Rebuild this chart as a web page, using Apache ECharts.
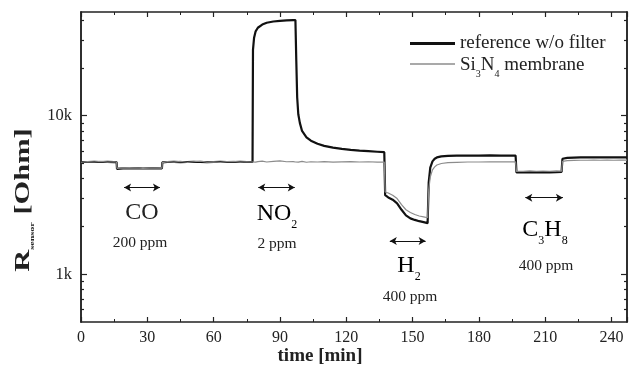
<!DOCTYPE html>
<html><head><meta charset="utf-8">
<script src="https://cdn.jsdelivr.net/npm/echarts@6/dist/echarts.min.js"></script>
<style>html,body{margin:0;padding:0;background:#fff}#c{width:630px;height:377px}</style>
</head><body><div id="c"></div>
<script>
// time [min]
const times = [0,3,6,9,12,15,16.1,16.3,19,22,25,28,31,34,36.6,36.8,39,42,45,48,51,54,57,60,63,66,69,72,75,77.6,77.8,78.3,79,80,82,84,87,90,93,96,97,97.4,97.8,98.3,99,100,102,104,107,110,114,118,122,126,130,134,137.2,137.6,139,141,143,145,147,149,151,153,155,156.8,157.3,158,159,160,161,163,166,170,175,180,185,190,196.6,197,200,203,206,209,212,215,217.4,217.8,220,223,226,229,232,235,238,241,244,247];
// reference w/o filter, R [Ohm]
const refR = [5100,5100,5120,5100,5110,5090,5100,4620,4650,4640,4660,4640,4650,4660,4640,5080,5100,5110,5090,5100,5110,5100,5090,5100,5110,5100,5100,5110,5100,5100,26000,31000,34000,35800,37500,38500,39200,39600,39800,40000,40000,22000,13000,10200,9000,8000,7300,6950,6650,6450,6280,6170,6080,6020,5970,5920,5880,3150,3050,2950,2800,2550,2350,2250,2200,2160,2130,2100,3800,4700,5150,5350,5450,5530,5570,5590,5600,5600,5610,5600,5600,4380,4380,4400,4390,4400,4390,4400,4410,5350,5420,5440,5450,5450,5460,5450,5460,5450,5460,5460];
// Si3N4 membrane, R [Ohm]
const memR = [5080,5130,5100,5150,5090,5120,5100,4650,4680,4660,4690,4650,4670,4690,4660,5060,5130,5090,5150,5080,5120,5160,5090,5110,5070,5130,5140,5090,5120,5100,5080,5120,5090,5130,5160,5100,5140,5180,5120,5130,5100,5120,5140,5090,5110,5150,5080,5120,5100,5130,5090,5110,5130,5100,5120,5090,5100,3300,3250,3150,3000,2750,2550,2450,2380,2330,2300,2270,3400,4100,4550,4750,4880,4990,5050,5080,5100,5100,5110,5110,5120,4450,4460,4480,4460,4470,4460,4480,4470,5150,5200,5220,5230,5230,5240,5230,5240,5230,5240,5240];

const seriesNames = ['reference w/o filter', 'Si3N4 membrane'];
const yMajorValues = [1000, 10000];
const yMajorLabels = ['1k', '10k'];
const yMinorValues = [600,700,800,900,2000,3000,4000,5000,6000,7000,8000,9000,20000,30000,40000];
const yRange = [500, 45000];
const xRange = [0, 247];
const xInterval = 30;

// gas exposure annotations: [start min, end min, arrow R]
const arrowStart = [19.5, 80.2, 139.7, 201];
const arrowEnd = [35.7, 96.7, 155.9, 218];
const arrowR = [3520, 3520, 1620, 3040];

const L = Math.log10;
const ymin = L(yRange[0]), ymax = L(yRange[1]);
const serif = '"Liberation Serif","DejaVu Serif",serif';
const ink = '#222';

const refData = times.map((t,i)=>[t, L(refR[i])]);
const memData = times.map((t,i)=>[t, L(memR[i])]);

const chart = echarts.init(document.getElementById('c'));

function xAx(pos, labels){
  return {type:'value', position:pos, min:xRange[0], max:xRange[1], interval:xInterval,
    axisLine:{show:true, onZero:false, lineStyle:{color:ink, width:1.5}},
    axisTick:{show:true, inside:true, length:5, lineStyle:{color:ink, width:1.2}},
    minorTick:{show:true, splitNumber:2, length:3, lineStyle:{color:ink, width:1}},
    splitLine:{show:false}, minorSplitLine:{show:false},
    axisLabel:{show:labels, margin:8, fontFamily:serif, fontSize:16, color:ink,
      formatter:v=> (v<=240? String(v):'')}};
}
function yAx(pos, custom, len, labels){
  return {type:'value', position:pos, min:ymin, max:ymax,
    axisLine:{show:true, onZero:false, lineStyle:{color:ink, width:1.5}},
    axisTick:{show:true, inside:true, length:len, customValues:custom.map(L), lineStyle:{color:ink, width:1.2}},
    splitLine:{show:false},
    axisLabel:{show:labels, margin:9, fontFamily:serif, fontSize:16.5, color:ink,
      customValues: yMajorValues.map(L),
      formatter:v=>{ const i = yMajorValues.findIndex(m=>Math.abs(L(m)-v)<1e-6); return i>=0? yMajorLabels[i]:''; }}};
}

const rich = {
  a:{fontFamily:serif, fontSize:24, color:ink, lineHeight:28, verticalAlign:'bottom'},
  s:{fontFamily:serif, fontSize:12, color:ink, lineHeight:18, verticalAlign:'bottom', padding:[0,0,-5,0]}
};

const option = {
  animation:false,
  backgroundColor:'#fff',
  grid:{left:81, right:2, top:12, bottom:55, containLabel:false},
  xAxis:[xAx('bottom', true), xAx('top', false)],
  yAxis:[yAx('left', yMajorValues, 6, true), yAx('left', yMinorValues, 3, false),
         yAx('right', yMajorValues, 6, false), yAx('right', yMinorValues, 3, false)],
  legend:[
    {data:[seriesNames[0]], left:405, top:29, icon:'rect', itemWidth:45, itemHeight:3,
     textStyle:{fontFamily:serif, fontSize:19, color:ink}},
    {data:[seriesNames[1]], left:405, top:51, icon:'rect', itemWidth:45, itemHeight:1.5,
     textStyle:{fontFamily:serif, fontSize:19, color:ink, rich:{
       b:{fontFamily:serif, fontSize:19, color:ink, lineHeight:22, verticalAlign:'bottom'},
       u:{fontFamily:serif, fontSize:10, color:ink, lineHeight:13, verticalAlign:'bottom', padding:[0,0,-4,0]}}},
     formatter:()=>'{b|Si}{u|3}{b|N}{u|4}{b| membrane}'}
  ],
  series:[
    {name:seriesNames[0], type:'line', data:refData, showSymbol:false, symbol:'none',
     lineStyle:{color:'#111', width:2.2}, itemStyle:{color:'#111'}, z:2},
    {name:seriesNames[1], type:'line', data:memData, showSymbol:false, symbol:'none',
     lineStyle:{color:'#8c8c8c', width:1.2}, itemStyle:{color:'#8c8c8c'}, z:3,
     markLine:{silent:true, symbol:['arrow','arrow'], symbolSize:[6,7], label:{show:false},
       lineStyle:{color:'#111', width:1, type:'solid'},
       data: arrowStart.map((s,i)=>[{coord:[s, L(arrowR[i])]},{coord:[arrowEnd[i], L(arrowR[i])]}])}}
  ],
  graphic:[
    {type:'text', x:320, y:356, style:{text:'time [min]', fontFamily:serif, fontSize:19, fontWeight:'bold', fill:ink, align:'center', verticalAlign:'middle'}},
    {type:'text', x:22, y:200, rotation:Math.PI/2, scaleX:1.45, style:{
      text:'{r|R}{s|sensor}{r| [Ohm]}', align:'center', verticalAlign:'middle',
      rich:{r:{fontFamily:serif, fontSize:21, fontWeight:'bold', fill:ink, lineHeight:24, verticalAlign:'bottom'},
            s:{fontFamily:serif, fontSize:7, fontWeight:'bold', fill:ink, lineHeight:10, verticalAlign:'bottom', padding:[0,0,-2,0]}}}},
    {type:'text', x:142, y:213, style:{text:'CO', font:'24px '+serif, fill:ink, align:'center', verticalAlign:'middle'}},
    {type:'text', x:140, y:243, style:{text:'200 ppm', font:'15.5px '+serif, fill:ink, align:'center', verticalAlign:'middle'}},
    {type:'text', x:277, y:212, style:{text:'{a|NO}{s|2}', rich:rich, align:'center', verticalAlign:'middle'}},
    {type:'text', x:277, y:244, style:{text:'2 ppm', font:'15.5px '+serif, fill:ink, align:'center', verticalAlign:'middle'}},
    {type:'text', x:409, y:264, style:{text:'{a|H}{s|2}', rich:rich, align:'center', verticalAlign:'middle'}},
    {type:'text', x:410, y:297, style:{text:'400 ppm', font:'15.5px '+serif, fill:ink, align:'center', verticalAlign:'middle'}},
    {type:'text', x:545, y:228, style:{text:'{a|C}{s|3}{a|H}{s|8}', rich:rich, align:'center', verticalAlign:'middle'}},
    {type:'text', x:546, y:266, style:{text:'400 ppm', font:'15.5px '+serif, fill:ink, align:'center', verticalAlign:'middle'}}
  ]
};
chart.setOption(option);
</script></body></html>
